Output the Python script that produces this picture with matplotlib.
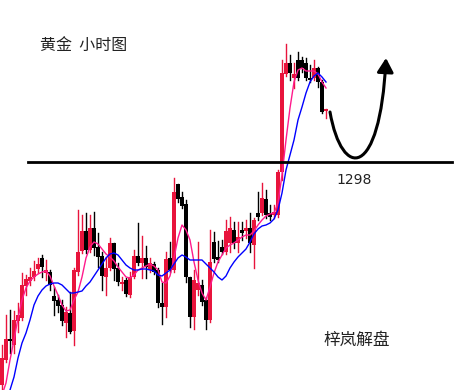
import matplotlib
matplotlib.use("Agg")
from matplotlib import pyplot as plt
from matplotlib.path import Path
from matplotlib.patches import FancyArrowPatch

# hourly gold candles (price = 1314.2 - pixel_y / 10)
colors = ["r", "r", "k", "r", "r", "r", "r", "r", "r", "r",
          "k", "r", "k", "k", "k", "k", "r", "k", "r", "r",
          "r", "k", "r", "k", "k", "k", "r", "r", "k", "k",
          "r", "k", "r", "r", "k", "r", "k", "r", "k", "k",
          "k", "r", "k", "r", "k", "k", "k", "k", "r", "r",
          "k", "k", "r", "k", "k", "k", "r", "r", "k", "r",
          "k", "r", "k", "r", "k", "r", "k", "k", "r", "r",
          "r", "r", "k", "r", "k", "k", "k", "k", "r", "k",
          "k", "r"]
body_top = [358, 339, 339, 320, 315, 285, 279, 277, 271, 264,
            258, 270, 272, 296, 300, 305, 312, 313, 270, 252,
            231, 231, 228, 228, 247, 256, 268, 243, 243, 268,
            282, 280, 277, 256, 256, 258, 258, 263, 264, 270,
            303, 259, 258, 192, 184, 197, 204, 277, 280, 283,
            285, 300, 262, 242, 257, 247, 231, 228, 230, 237,
            230, 228, 228, 220, 213, 198, 199, 213, 212, 172,
            73, 63, 63, 74, 60, 60, 63, 78, 68, 68,
            82, 109]
body_bot = [385, 360, 341, 345, 321, 318, 286, 281, 277, 269,
            267, 273, 285, 301, 306, 321, 323, 332, 331, 272,
            251, 250, 250, 248, 257, 276, 277, 268, 269, 282,
            284, 294, 295, 277, 263, 263, 267, 270, 272, 303,
            307, 307, 270, 270, 199, 206, 277, 317, 317, 290,
            302, 320, 320, 259, 260, 252, 252, 243, 243, 243,
            233, 231, 243, 245, 217, 213, 215, 217, 215, 215,
            172, 74, 73, 78, 78, 68, 78, 80, 78, 82,
            112, 111]
wick_hi = [345, 315, 310, 311, 303, 273, 275, 268, 261, 258,
           255, 260, 270, 287, 295, 300, 307, 292, 268, 210,
           215, 213, 215, 212, 233, 252, 257, 238, 243, 263,
           277, 278, 272, 250, 223, 236, 246, 258, 262, 268,
           283, 252, 242, 178, 184, 192, 200, 277, 270, 242,
           280, 297, 230, 232, 241, 240, 220, 217, 222, 222,
           222, 220, 213, 218, 192, 183, 190, 205, 205, 170,
           60, 44, 55, 63, 52, 57, 58, 65, 60, 67,
           80, 109]
wick_lo = [392, 362, 353, 353, 332, 320, 295, 285, 280, 273,
           277, 280, 290, 315, 312, 325, 337, 333, 345, 275,
           253, 253, 252, 255, 267, 290, 295, 270, 280, 285,
           290, 296, 297, 278, 265, 278, 278, 272, 274, 307,
           324, 317, 272, 272, 202, 208, 282, 327, 329, 295,
           305, 329, 322, 262, 262, 254, 254, 252, 248, 252,
           240, 238, 252, 268, 220, 215, 218, 220, 218, 217,
           180, 76, 80, 88, 80, 72, 80, 82, 80, 87,
           113, 118]
ma_fast = [395, 383, 360, 340, 318, 300, 288, 281, 277, 274,
           272, 271, 276, 286, 295, 305, 311, 310, 300, 292,
           277, 258, 247, 242, 244, 249, 254, 257, 261, 267,
           272, 277, 278, 275, 270, 268, 266, 264, 266, 270,
           282, 283, 276, 258, 238, 225, 230, 240, 262, 280,
           293, 300, 287, 273, 262, 255, 248, 245, 243, 240,
           237, 235, 235, 231, 225, 220, 216, 214, 213, 203,
           175, 140, 108, 82, 70, 68, 71, 71, 71, 74,
           82, 88]
ma_slow = [420, 405, 390, 377, 358, 343, 333, 320, 305, 296,
           290, 286, 284, 283, 283, 285, 289, 293, 293, 292,
           291, 286, 282, 276, 270, 264, 258, 254, 253, 255,
           260, 265, 268, 270, 270, 269, 269, 270, 271, 275,
           276, 273, 270, 264, 258, 255, 257, 260, 260, 260,
           260, 264, 268, 272, 277, 280, 276, 268, 262, 257,
           253, 249, 242, 234, 229, 226, 225, 223, 219, 210,
           193, 170, 155, 140, 120, 107, 93, 82, 76, 73,
           77, 82]


def px2price(v):
    return 1314.2 - v / 10.0


def px2idx(v):
    return (v + 2) / 4.0


level = 1298
n = len(colors)
idx = list(range(1, n + 1))

fig = plt.figure(figsize=(4.6, 3.9), dpi=100)
ax = fig.add_axes([0, 0, 1, 1])
ax.set_xlim(0.5, 115.5)
ax.set_ylim(px2price(390), px2price(0))
ax.axis("off")

red = "#e8143c"
for i in range(n):
    c = red if colors[i] == "r" else "black"
    x = idx[i]
    ax.plot([x, x], [px2price(wick_lo[i]), px2price(wick_hi[i])], color=c, lw=1, zorder=2)
    top = px2price(body_top[i])
    bot = px2price(body_bot[i])
    ax.bar(x, max(top - bot, 0.2), bottom=bot, width=0.85, color=c, lw=0,
           antialiased=False, zorder=3)

ax.plot(idx, [px2price(v) for v in ma_fast], color="#ff1a8c", lw=1, zorder=4)
ax.plot(idx, [px2price(v) for v in ma_slow], color="#0000ff", lw=1, zorder=4)

# 1298 support line
ax.plot([px2idx(28), px2idx(452)], [level, level], color="black", lw=2, zorder=5)
ax.text(px2idx(354), px2price(180), "1298", fontsize=10, color="#222222",
        family="DejaVu Sans", ha="center", va="center")

# curved arrow
verts = [(px2idx(330), px2price(112)), (px2idx(342), px2price(180)),
         (px2idx(380), px2price(180)), (px2idx(386), px2price(58))]
path = Path(verts, [Path.MOVETO, Path.CURVE4, Path.CURVE4, Path.CURVE4])
arr = FancyArrowPatch(path=path, arrowstyle="-|>,head_length=0.6,head_width=0.35",
                      mutation_scale=14, color="black", lw=2.2, zorder=6)
ax.add_patch(arr)

cjk = ["Noto Sans CJK SC", "DejaVu Sans"]
ax.text(px2idx(40), px2price(45), "黄金  小时图", fontsize=11.5, family=cjk,
        ha="left", va="center", color="#222222")
ax.text(px2idx(323), px2price(340), "梓岚解盘", fontsize=12, family=cjk,
        ha="left", va="center", color="#222222")

fig.savefig("out.png", dpi=100)
